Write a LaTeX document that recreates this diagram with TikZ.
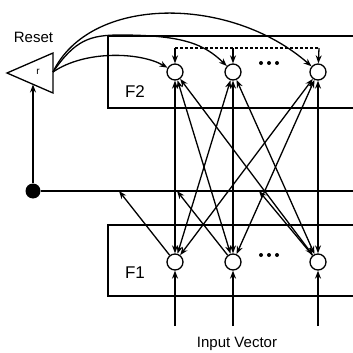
\documentclass[tikz,border=0pt]{standalone}
\usepackage{fontspec}
\setmainfont{Liberation Sans}
\usetikzlibrary{arrows.meta}
\begin{document}
\begin{tikzpicture}[x=1pt,y=-1pt,
  unit/.style={circle,draw,line width=1.3pt,minimum size=16pt,inner sep=0pt,fill=white},
  conn/.style={line width=1.3pt},
  tip/.style={-{Stealth[length=8pt,width=6pt]}},
  both/.style={{Stealth[length=8pt,width=6pt]}-{Stealth[length=8pt,width=6pt]}},
  boxline/.style={line width=1.7pt},
  lbl/.style={font=\fontsize{17}{19}\selectfont,anchor=base,inner sep=0pt},
  txt/.style={font=\fontsize{15}{17}\selectfont,anchor=base,inner sep=0pt},
  dotmark/.style={circle,fill,minimum size=4pt,inner sep=0pt}
]
\useasboundingbox (0,0) rectangle (353,353);
% boxes
\draw[boxline] (353,36) -- (108,36) -- (108,108) -- (353,108);
\draw[boxline] (353,225) -- (108,225) -- (108,296) -- (353,296);
\node[lbl] (f2l) at (135,97) {F2};
\node[lbl] (f1l) at (135,278) {F1};
% units
\node[unit] (b1) at (175,72) {};
\node[unit] (b2) at (233,72) {};
\node[unit] (b3) at (318,72) {};
\node[unit] (a1) at (175,262) {};
\node[unit] (a2) at (233,262) {};
\node[unit] (a3) at (318,262) {};
% dots
\foreach \x in {261,269,277} {\node[dotmark] at (\x,63) {}; \node[dotmark] at (\x,255) {};}
% bipartite connections
\foreach \i in {1,2,3} {\foreach \j in {1,2,3} {\draw[conn,both] (a\i) -- (b\j);}}
% dashed top line
\coordinate (t1) at (175,48);
\coordinate (t2) at (233,48);
\coordinate (t3) at (319,48);
\draw[conn,dash pattern=on 3pt off 2pt] (t1) -- (t3);
\draw[conn,tip] (t1) -- (b1);
\draw[conn,tip] (t2) -- (b2);
\draw[conn,tip] (t3) -- (b3);
% reset unit
\draw[line width=1.3pt] (7,73) -- (53,53) -- (53,93) -- cycle;
\node[font=\fontsize{10}{12}\selectfont] (rl) at (38,72) {r};
\node[txt] (reset) at (33.5,43) {Reset};
\coordinate (rout) at (53,72);
\coordinate (rin) at (33,84.5);
% gate dot and horizontal line
\node[circle,fill,minimum size=15pt,inner sep=0pt] (gate) at (33,191) {};
\coordinate (hend) at (353,191);
\draw[conn] (gate) -- (hend);
\draw[conn,tip] (gate) -- (rin);
\coordinate (h1) at (119,191);
\coordinate (h2) at (177,191);
\coordinate (h3) at (259,191);
\draw[conn,tip] (a1) -- (h1);
\draw[conn,tip] (a2) -- (h2);
\draw[conn,tip] (a3) -- (h3);
% reset curves
\draw[conn,tip] (rout) .. controls (85,50) and (140,52) .. (b1);
\draw[conn,tip] (rout) .. controls (75,40) and (90,35) .. (120,35) .. controls (185,35) and (205,45) .. (b2);
\draw[conn,tip] (rout) .. controls (90,-5) and (230,-5) .. (b3);
% inputs
\coordinate (i1) at (175,326);
\coordinate (i2) at (233,326);
\coordinate (i3) at (318,326);
\draw[conn,tip] (i1) -- (a1);
\draw[conn,tip] (i2) -- (a2);
\draw[conn,tip] (i3) -- (a3);
\node[txt] (inv) at (237,347) {Input Vector};
\end{tikzpicture}
\end{document}
